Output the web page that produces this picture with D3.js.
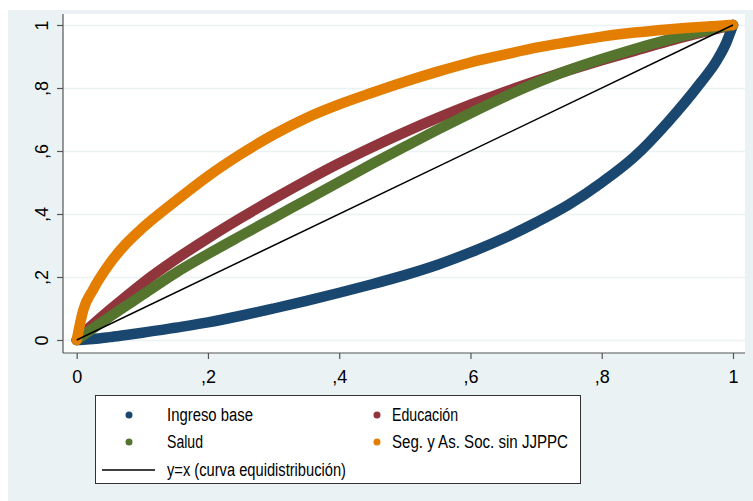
<!DOCTYPE html>
<html>
<head>
<meta charset="utf-8">
<script src="https://cdn.jsdelivr.net/npm/d3@7"></script>
<style>
  body { margin: 0; background: #ffffff; }
  svg text { font-family: "Liberation Sans", Arial, sans-serif; }
</style>
</head>
<body>
<div id="chart"></div>
<script>
// cumulative population share (x)
var pobAcum = [0, 0.01, 0.025, 0.05, 0.075, 0.1, 0.15, 0.2, 0.25, 0.3, 0.35, 0.4, 0.45, 0.5,
               0.55, 0.6, 0.65, 0.7, 0.75, 0.8, 0.85, 0.9, 0.95, 0.975, 0.99, 1];

// concentration curves (y)
var ingresoBase = [0, 0.001, 0.003, 0.009, 0.016, 0.023, 0.039, 0.056, 0.077, 0.1, 0.124, 0.15, 0.177, 0.206,
                   0.239, 0.278, 0.322, 0.373, 0.43, 0.5, 0.582, 0.69, 0.815, 0.886, 0.945, 1];
var educacion = [0, 0.022, 0.05, 0.095, 0.138, 0.18, 0.255, 0.323, 0.387, 0.448, 0.506, 0.561, 0.612, 0.66,
                 0.705, 0.747, 0.786, 0.822, 0.856, 0.888, 0.918, 0.948, 0.975, 0.988, 0.995, 1];
var salud = [0, 0.015, 0.037, 0.073, 0.108, 0.143, 0.212, 0.273, 0.331, 0.388, 0.445, 0.502, 0.559, 0.614,
             0.668, 0.72, 0.77, 0.816, 0.857, 0.892, 0.924, 0.953, 0.978, 0.99, 0.996, 1];
var segAsSoc = [0, 0.095, 0.16, 0.242, 0.305, 0.355, 0.44, 0.52, 0.59, 0.652, 0.705, 0.748, 0.785, 0.82,
                0.852, 0.881, 0.905, 0.928, 0.946, 0.963, 0.976, 0.986, 0.994, 0.997, 0.999, 1];

var tickVals = [0, 0.2, 0.4, 0.6, 0.8, 1];
var tickLabels = ["0", ",2", ",4", ",6", ",8", "1"];

var seriesNames = ["Ingreso base", "Educación", "Salud", "Seg. y As. Soc. sin JJPPC"];
var seriesColors = ["#1a476f", "#90353b", "#55752f", "#e37e00"];
var seriesData = [ingresoBase, educacion, salud, segAsSoc];
var diagLabel = "y=x (curva equidistribución)";

var width = 753, height = 501;
var bg = "#eaf2f3";

var svg = d3.select("#chart").append("svg")
    .attr("width", width).attr("height", height);

// outer graph region
svg.append("rect").attr("x", 8).attr("y", 10)
    .attr("width", width - 8).attr("height", height - 10).attr("fill", bg);

var plot = {left: 63, right: 745, top: 14, bottom: 353};

svg.append("rect").attr("x", plot.left).attr("y", plot.top)
    .attr("width", plot.right - plot.left).attr("height", plot.bottom - plot.top)
    .attr("fill", "#ffffff");

var x = d3.scaleLinear().domain([0, 1]).range([76.7, 733]);
var y = d3.scaleLinear().domain([0, 1]).range([340, 25]);

function fmt(d) {
    return tickLabels[tickVals.indexOf(d)];
}

// gridlines
var grid = svg.append("g").attr("transform", "translate(" + plot.left + ",0)")
    .call(d3.axisLeft(y).tickValues(tickVals).tickSize(-(plot.right - plot.left)).tickFormat(""));
grid.select(".domain").remove();
grid.selectAll("line").attr("stroke", bg).attr("stroke-width", 1.5);

// curves
var line = d3.line()
    .x(function (d) { return x(d[0]); })
    .y(function (d) { return y(d[1]); })
    .curve(d3.curveMonotoneX);

seriesData.forEach(function (vals, i) {
    svg.append("path")
        .datum(pobAcum.map(function (p, j) { return [p, vals[j]]; }))
        .attr("d", line)
        .attr("fill", "none")
        .attr("stroke", seriesColors[i])
        .attr("stroke-width", 10.5)
        .attr("stroke-linecap", "round")
        .attr("stroke-linejoin", "round");
});

// equidistribution line
svg.append("path")
    .datum([[0, 0], [1, 1]])
    .attr("d", line)
    .attr("fill", "none")
    .attr("stroke", "#000000")
    .attr("stroke-width", 1.5);

// y axis
var yAxis = svg.append("g").attr("transform", "translate(" + plot.left + ",0)")
    .call(d3.axisLeft(y).tickValues(tickVals).tickSize(6).tickFormat(fmt));
yAxis.select(".domain").attr("d", "M0," + plot.top + "V" + plot.bottom);
yAxis.selectAll("line, .domain").attr("stroke", "#555555").attr("stroke-width", 1.2);
yAxis.selectAll("text")
    .attr("transform", "rotate(-90)")
    .attr("x", 0).attr("y", -15).attr("dy", 0)
    .style("text-anchor", "middle")
    .attr("fill", "#000").style("font-size", "18px");

// x axis
var xAxis = svg.append("g").attr("transform", "translate(0," + plot.bottom + ")")
    .call(d3.axisBottom(x).tickValues(tickVals).tickSize(6).tickFormat(fmt));
xAxis.select(".domain").attr("d", "M" + plot.left + ",0H" + plot.right);
xAxis.selectAll("line, .domain").attr("stroke", "#555555").attr("stroke-width", 1.2);
xAxis.selectAll("text")
    .attr("y", 30).attr("dy", 0)
    .attr("fill", "#000").style("font-size", "18px");

// legend
var legend = svg.append("g");
legend.append("rect").attr("x", 95.5).attr("y", 395.5).attr("width", 485).attr("height", 88)
    .attr("fill", "#ffffff").attr("stroke", "#333333").attr("stroke-width", 1);

var rowY = [415, 442, 470];
var colMarker = [129, 377];
var colText = [167, 392];
var textWidths = [86, 66, 36, 176];

function legendText(xp, yp, str, w) {
    legend.append("text").attr("x", xp).attr("y", yp).attr("dy", "0.35em")
        .attr("textLength", w).attr("lengthAdjust", "spacingAndGlyphs")
        .style("font-size", "18px").text(str);
}

seriesNames.forEach(function (name, i) {
    var col = i % 2, row = Math.floor(i / 2);
    legend.append("circle").attr("cx", colMarker[col]).attr("cy", rowY[row]).attr("r", 3.5)
        .attr("fill", seriesColors[i]);
    legendText(colText[col], rowY[row], name, textWidths[i]);
});
legend.append("line").attr("x1", 102).attr("x2", 155).attr("y1", rowY[2]).attr("y2", rowY[2])
    .attr("stroke", "#000").attr("stroke-width", 1.5);
legendText(colText[0], rowY[2], diagLabel, 179);
</script>
</body>
</html>
